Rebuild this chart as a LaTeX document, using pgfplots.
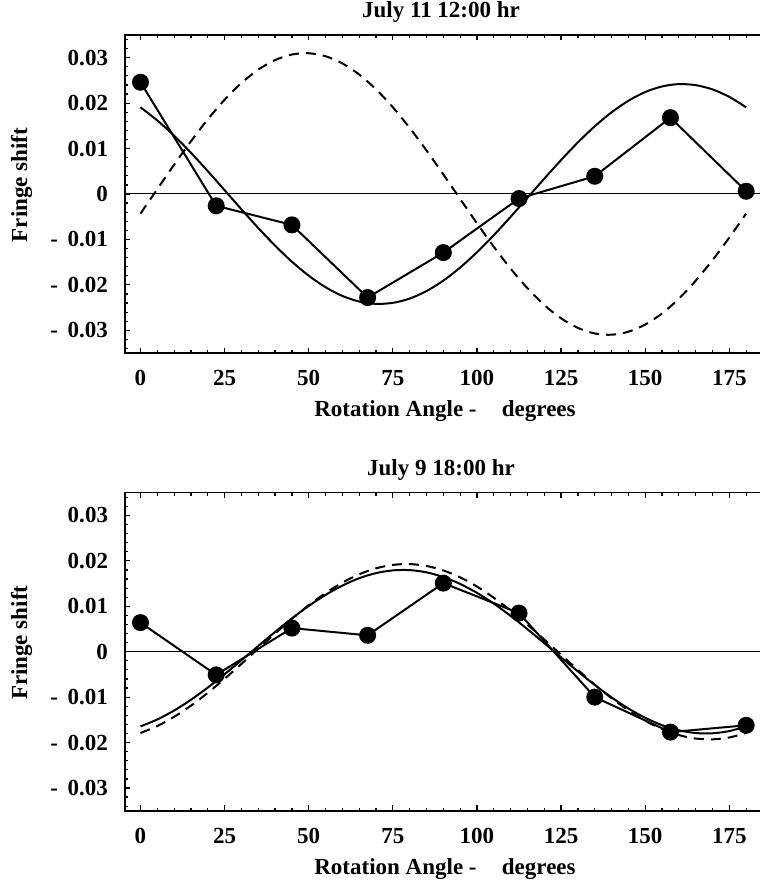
\documentclass[border=0pt]{standalone}
\usepackage{fontspec}
\setmainfont{Liberation Serif}
\usepackage{pgfplots}
\pgfplotsset{compat=1.18}

\newcommand{\fs}{\bfseries\fontsize{11.5}{13}\selectfont}
\newcommand{\mneg}[1]{-\hspace{0.42em}#1}

\pgfplotsset{
  fringe/.style={
    scale only axis,
    width=320pt, height=159pt,
    xmin=-4.6, xmax=185.6,
    ymin=-0.035, ymax=0.035,
    scaled y ticks=false,
    xtick={0,25,50,75,100,125,150,175},
    xticklabels={0,25,50,75,100,125,150,175},
    minor xtick={5,10,...,180},
    ytick={-0.03,-0.02,-0.01,0,0.01,0.02,0.03},
    yticklabels={\mneg{0.03},\mneg{0.02},\mneg{0.01},0,0.01,0.02,0.03},
    minor ytick={-0.034,-0.032,...,0.0345},
    tick align=inside,
    major tick length=2.7pt,
    minor tick length=1.6pt,
    every tick/.style={black, line width=0.6pt},
    axis line style={line width=0.8pt},
    ticklabel style={font=\fs},
    xticklabel style={anchor=base, yshift=-16.5pt},
    yticklabel style={anchor=east, inner sep=0pt, xshift=-8.3pt},
    every axis title/.style={at={(0.5,1)}, anchor=base, yshift=8.5pt, xshift=-2pt, font=\fs},
    every axis x label/.style={at={(0.5,0)}, anchor=base, yshift=-32pt, font=\fs},
    every axis y label/.style={at={(-0.153,0.528)}, rotate=90, anchor=base, font=\fs},
    xlabel={Rotation Angle -\hspace{1.1em}degrees},
    ylabel={Fringe shift},
    clip=false,
  },
  fit/.style={black, line width=1pt, smooth, no markers},
  dfit/.style={black, line width=1pt, smooth, no markers, dash pattern=on 5pt off 3.5pt},
  meas/.style={black, line width=1pt, mark=*, mark size=3.75pt, mark options={solid, fill=black}},
}

\begin{document}
\begin{tikzpicture}
\useasboundingbox (-62.5pt,-266.5pt) rectangle (317pt,176.5pt);

% July 11, 12:00
\begin{axis}[fringe, at={(0,0)}, anchor=south west, title={July 11 12:00 hr}]
  \draw[line width=0.5pt] (rel axis cs:0,0.5) -- (rel axis cs:1,0.5);
  \addplot[dfit] coordinates {
    (0,-0.00431)(5,0.00108)(10,0.00645)(15,0.01161)(20,0.01643)(25,0.02074)
    (30,0.02443)(35,0.02737)(40,0.02948)(45,0.03070)(50,0.03098)(55,0.03032)
    (60,0.02874)(65,0.02629)(70,0.02304)(75,0.01909)(80,0.01455)(85,0.00958)
    (90,0.00431)(95,-0.00108)(100,-0.00645)(105,-0.01161)(110,-0.01643)(115,-0.02074)
    (120,-0.02443)(125,-0.02737)(130,-0.02948)(135,-0.03070)(140,-0.03098)(145,-0.03032)
    (150,-0.02874)(155,-0.02629)(160,-0.02304)(165,-0.01909)(170,-0.01455)(175,-0.00958)
    (180,-0.00431)
  };
  \addplot[fit] coordinates {
    (0,0.01907)(5,0.01619)(10,0.01282)(15,0.00907)(20,0.00503)(25,0.00084)
    (30,-0.00337)(35,-0.00748)(40,-0.01136)(45,-0.01490)(50,-0.01798)(55,-0.02052)
    (60,-0.02244)(65,-0.02367)(70,-0.02419)(75,-0.02396)(80,-0.02302)(85,-0.02137)
    (90,-0.01907)(95,-0.01619)(100,-0.01282)(105,-0.00907)(110,-0.00503)(115,-0.00084)
    (120,0.00337)(125,0.00748)(130,0.01136)(135,0.01490)(140,0.01798)(145,0.02052)
    (150,0.02244)(155,0.02367)(160,0.02419)(165,0.02396)(170,0.02302)(175,0.02137)
    (180,0.01907)
  };
  \addplot[meas] coordinates {
    (0,0.0246)(22.5,-0.0026)(45,-0.0068)(67.5,-0.0228)(90,-0.0129)
    (112.5,-0.0010)(135,0.0039)(157.5,0.0168)(180,0.0006)
  };
\end{axis}

% July 9, 18:00
\begin{axis}[fringe, at={(0,-228.85pt)}, anchor=south west, title={July 9 18:00 hr}]
  \draw[line width=0.5pt] (rel axis cs:0,0.5) -- (rel axis cs:1,0.5);
  \addplot[dfit] coordinates {
    (0,-0.01789)(5,-0.01637)(10,-0.01434)(15,-0.01188)(20,-0.00906)(25,-0.00596)
    (30,-0.00269)(35,0.00067)(40,0.00401)(45,0.00723)(50,0.01023)(55,0.01291)
    (60,0.01521)(65,0.01704)(70,0.01836)(75,0.01911)(80,0.01929)(85,0.01888)
    (90,0.01789)(95,0.01637)(100,0.01434)(105,0.01188)(110,0.00906)(115,0.00596)
    (120,0.00269)(125,-0.00067)(130,-0.00401)(135,-0.00723)(140,-0.01023)(145,-0.01291)
    (150,-0.01521)(155,-0.01704)(160,-0.01836)(165,-0.01911)(170,-0.01929)(175,-0.01888)
    (180,-0.01789)
  };
  \addplot[fit] coordinates {
    (0,-0.01644)(5,-0.01492)(10,-0.01295)(15,-0.01058)(20,-0.00789)(25,-0.00496)
    (30,-0.00188)(35,0.00126)(40,0.00435)(45,0.00732)(50,0.01007)(55,0.01250)
    (60,0.01456)(65,0.01618)(70,0.01730)(75,0.01790)(80,0.01796)(85,0.01747)
    (90,0.01644)(95,0.01492)(100,0.01295)(105,0.01058)(110,0.00789)(115,0.00496)
    (120,0.00188)(125,-0.00126)(130,-0.00435)(135,-0.00732)(140,-0.01007)(145,-0.01250)
    (150,-0.01456)(155,-0.01618)(160,-0.01730)(165,-0.01790)(170,-0.01796)(175,-0.01747)
    (180,-0.01644)
  };
  \addplot[meas] coordinates {
    (0,0.0064)(22.5,-0.0051)(45,0.0052)(67.5,0.0036)(90,0.0151)
    (112.5,0.0085)(135,-0.0100)(157.5,-0.0177)(180,-0.0162)
  };
\end{axis}
\end{tikzpicture}
\end{document}
